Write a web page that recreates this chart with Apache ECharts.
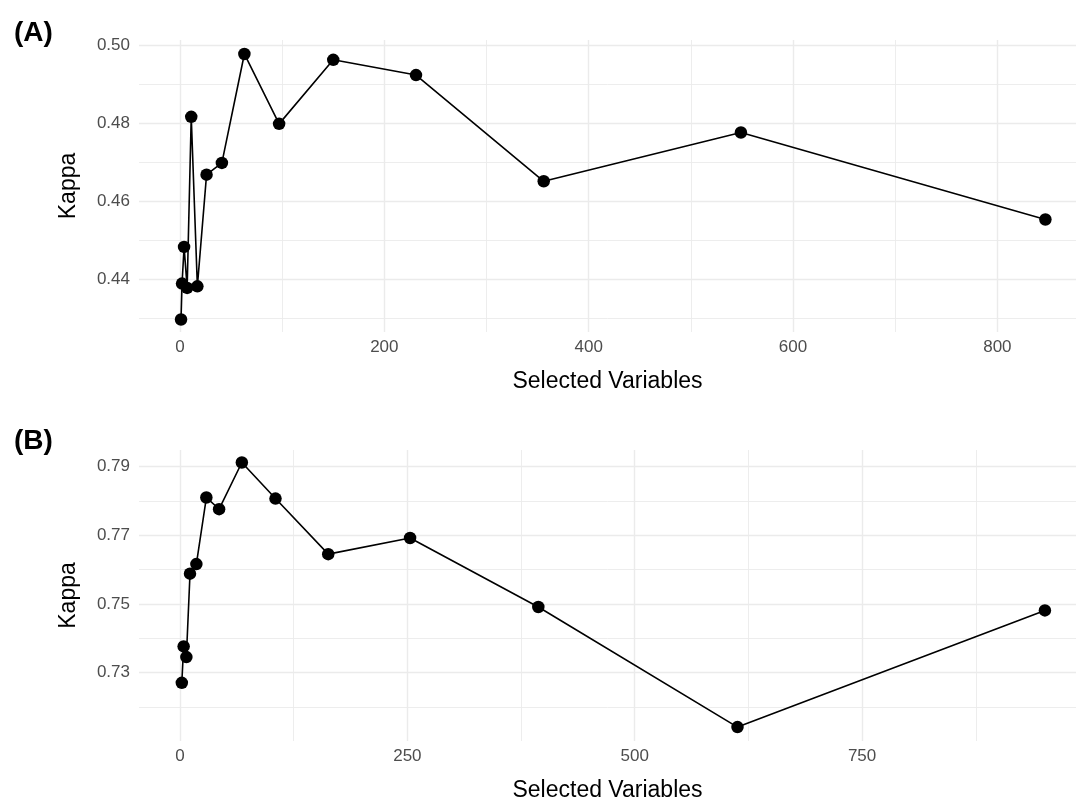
<!DOCTYPE html>
<html>
<head>
<meta charset="utf-8">
<script src="https://cdn.jsdelivr.net/npm/echarts@6/dist/echarts.min.js"></script>
<style>
  html, body { margin: 0; padding: 0; background: #ffffff; }
  #chart { width: 1076px; height: 803px; }
</style>
</head>
<body>
<div id="chart"></div>
<script>
// Panel A data
var selectedA = [1, 2, 4, 7, 11, 17, 26, 41, 63, 97, 150, 231, 356, 549, 847];
var kappaA = [0.4297, 0.4389, 0.4483, 0.4378, 0.4816, 0.4382, 0.4668, 0.4698, 0.4977, 0.4798, 0.4962, 0.4923, 0.4651, 0.4776, 0.4553];
// Panel B data
var selectedB = [2, 4, 7, 11, 18, 29, 43, 68, 105, 163, 253, 394, 613, 951];
var kappaB = [0.7270, 0.7376, 0.7345, 0.7588, 0.7616, 0.7810, 0.7776, 0.7912, 0.7807, 0.7645, 0.7692, 0.7491, 0.7141, 0.7481];

// Tick values
var xTicksA = [0, 200, 400, 600, 800];
var xMinorA = [100, 300, 500, 700];
var yTicksA = [0.44, 0.46, 0.48, 0.50];
var yMinorA = [0.43, 0.45, 0.47, 0.49];
var xTicksB = [0, 250, 500, 750];
var xMinorB = [125, 375, 625, 875];
var yTicksB = [0.73, 0.75, 0.77, 0.79];
var yMinorB = [0.72, 0.74, 0.76, 0.78];

var FONT = '"Liberation Sans", Arial, Helvetica, sans-serif';
var GRID_COLOR = '#ebebeb';

function pairs(xs, ys) {
  return xs.map(function (x, i) { return [x, ys[i]]; });
}

function majorX(gridIndex, min, max, ticks, fmt) {
  return {
    type: 'value', gridIndex: gridIndex, min: min, max: max,
    name: 'Selected Variables', nameLocation: 'middle', nameGap: 38,
    nameTextStyle: { color: '#000000', fontSize: 23, fontFamily: FONT },
    axisLine: { show: false },
    axisTick: { show: false, customValues: ticks },
    axisLabel: { customValues: ticks, color: '#4d4d4d', fontSize: 17, fontFamily: FONT, margin: 7,
      formatter: fmt },
    splitLine: { show: true, lineStyle: { color: GRID_COLOR, width: 1.4 } }
  };
}
function minorX(gridIndex, min, max, ticks) {
  return {
    type: 'value', gridIndex: gridIndex, min: min, max: max,
    axisLine: { show: false },
    axisTick: { show: false, customValues: ticks },
    axisLabel: { show: false, customValues: ticks },
    splitLine: { show: true, lineStyle: { color: GRID_COLOR, width: 0.9 } }
  };
}
function majorY(gridIndex, min, max, ticks) {
  return {
    type: 'value', gridIndex: gridIndex, min: min, max: max, position: 'left',
    name: 'Kappa', nameLocation: 'middle', nameGap: 59, nameRotate: 90,
    nameTextStyle: { color: '#000000', fontSize: 23, fontFamily: FONT },
    axisLine: { show: false },
    axisTick: { show: false, customValues: ticks },
    axisLabel: { customValues: ticks, color: '#4d4d4d', fontSize: 17, fontFamily: FONT, margin: 9,
      formatter: function (v) { return v.toFixed(2); } },
    splitLine: { show: true, lineStyle: { color: GRID_COLOR, width: 1.4 } }
  };
}
function minorY(gridIndex, min, max, ticks) {
  return {
    type: 'value', gridIndex: gridIndex, min: min, max: max, position: 'left',
    axisLine: { show: false },
    axisTick: { show: false, customValues: ticks },
    axisLabel: { show: false, customValues: ticks },
    splitLine: { show: true, lineStyle: { color: GRID_COLOR, width: 0.9 } }
  };
}

var intFmt = function (v) { return String(Math.round(v)); };

var chart = echarts.init(document.getElementById('chart'), null, { renderer: 'canvas' });
chart.setOption({
  animation: false,
  backgroundColor: '#ffffff',
  title: [
    { text: '(A)', left: 9, top: 14, textStyle: { fontSize: 28, fontWeight: 'bold', color: '#000000', fontFamily: FONT } },
    { text: '(B)', left: 9, top: 422, textStyle: { fontSize: 28, fontWeight: 'bold', color: '#000000', fontFamily: FONT } }
  ],
  grid: [
    { left: 139, right: 0, top: 40, height: 292 },
    { left: 139, right: 0, top: 450, height: 292 }
  ],
  xAxis: [
    majorX(0, -40.13, 876.96, xTicksA, intFmt),
    minorX(0, -40.13, 876.96, xMinorA),
    majorX(1, -45.08, 985.2, xTicksB, intFmt),
    minorX(1, -45.08, 985.2, xMinorB)
  ],
  yAxis: [
    majorY(0, 0.42650, 0.50128, yTicksA),
    minorY(0, 0.42650, 0.50128, yMinorA),
    majorY(1, 0.71004, 0.79485, yTicksB),
    minorY(1, 0.71004, 0.79485, yMinorB)
  ],
  series: [
    {
      type: 'line', xAxisIndex: 0, yAxisIndex: 0,
      data: pairs(selectedA, kappaA),
      symbol: 'circle', symbolSize: 12.5, showAllSymbol: true,
      itemStyle: { color: '#000000' },
      lineStyle: { color: '#000000', width: 1.6 },
      silent: true
    },
    {
      type: 'line', xAxisIndex: 2, yAxisIndex: 2,
      data: pairs(selectedB, kappaB),
      symbol: 'circle', symbolSize: 12.5, showAllSymbol: true,
      itemStyle: { color: '#000000' },
      lineStyle: { color: '#000000', width: 1.6 },
      silent: true
    }
  ]
});
</script>
</body>
</html>
